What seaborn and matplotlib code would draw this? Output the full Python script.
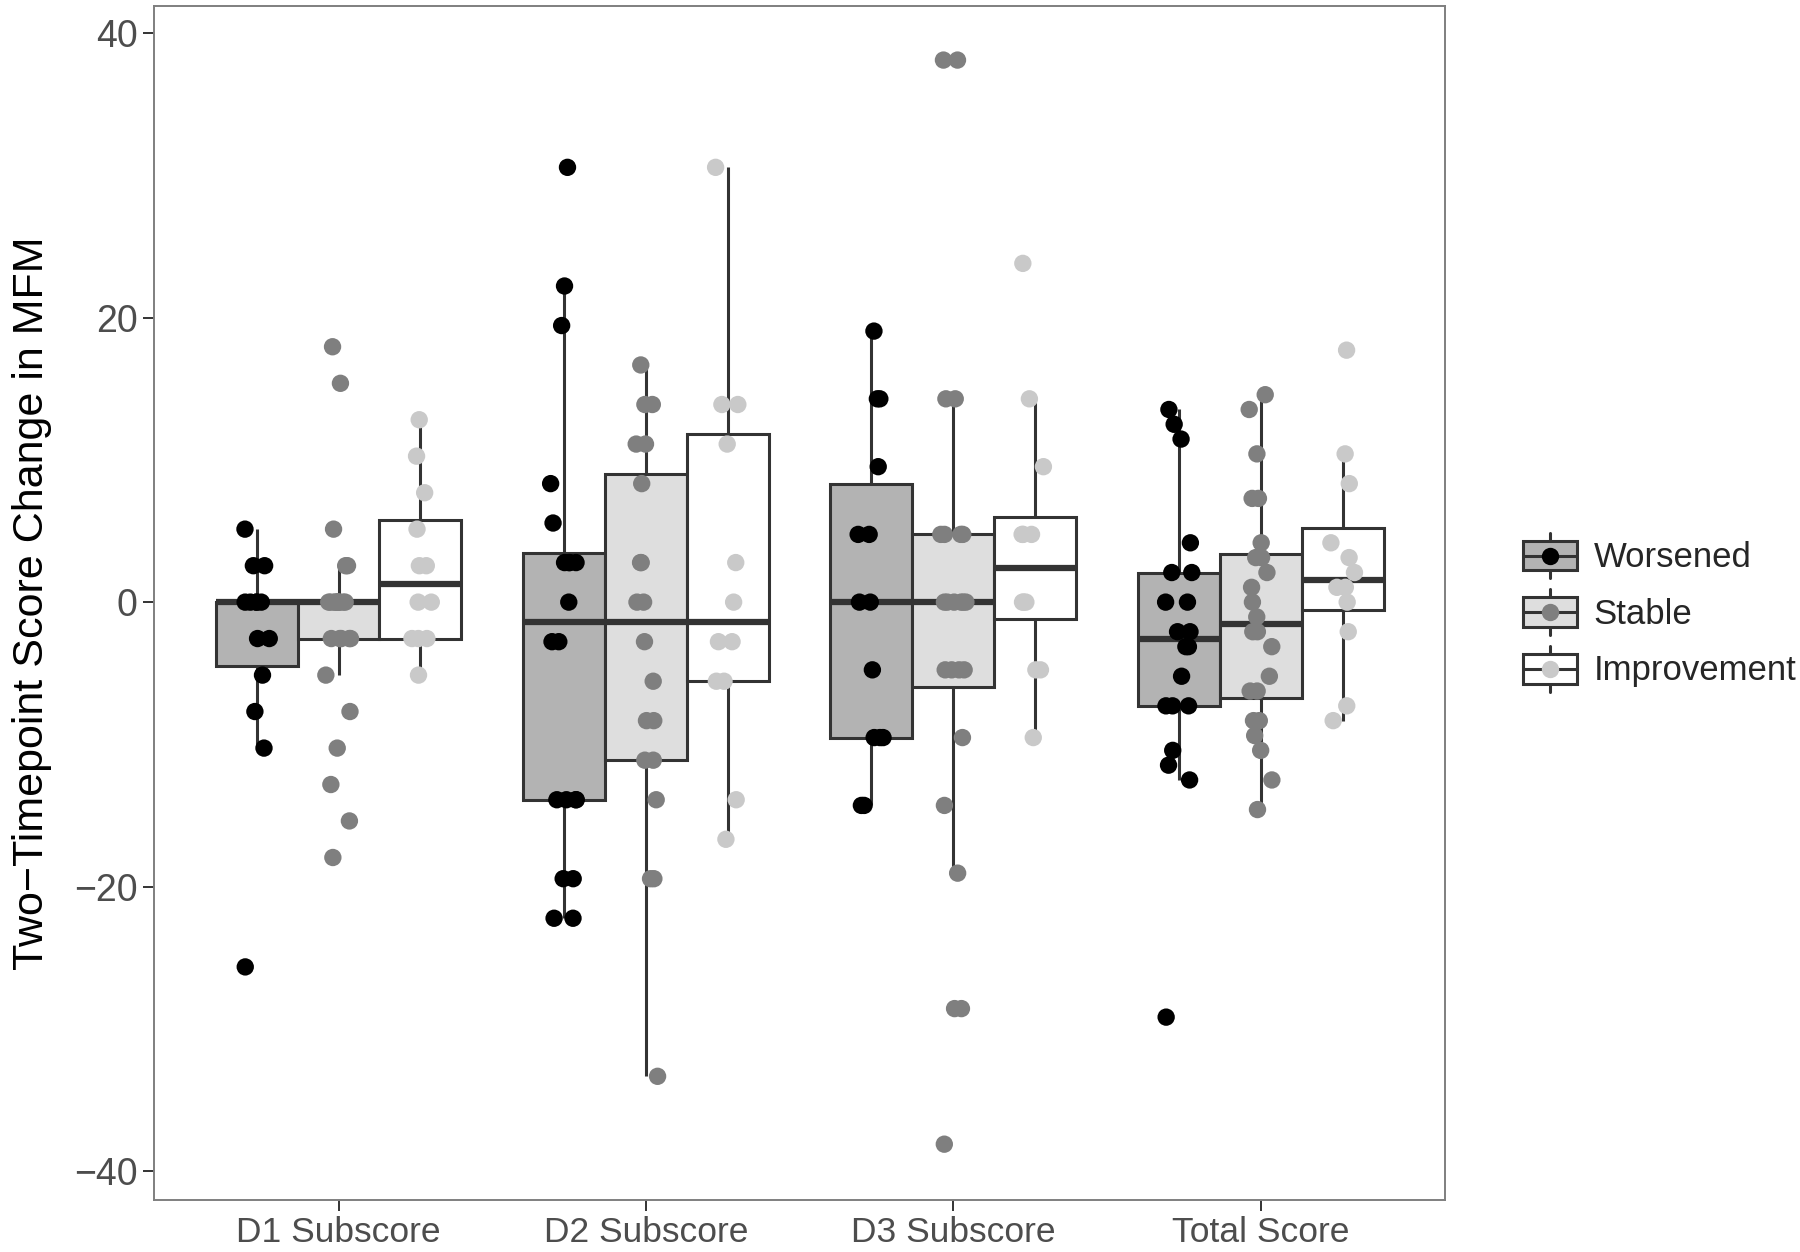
import numpy as np
import pandas as pd
import matplotlib
matplotlib.use("Agg")
import matplotlib.pyplot as plt
import seaborn as sns
from matplotlib.legend_handler import HandlerBase
from matplotlib.patches import Rectangle
from matplotlib.lines import Line2D

# ---------------- data ----------------
scores = ["D1 Subscore", "D2 Subscore", "D3 Subscore", "Total Score"]
statuses = ["Worsened", "Stable", "Improvement"]

d1_worsened = [-25.64, -10.26, -7.69, -5.13, -2.56, -2.56, 0, 0, 0, 0, 0, 2.56, 2.56, 5.13]
d1_stable = [-17.95, -15.38, -12.82, -10.26, -7.69, -5.13, -2.56, -2.56, -2.56, -2.56, -2.56,
             0, 0, 0, 0, 0, 0, 0, 0, 0, 0, 2.56, 2.56, 5.13, 15.38, 17.95]
d1_improvement = [12.82, 10.26, 7.69, 5.13, 2.56, 2.56, 0, 0, -2.56, -2.56, -2.56, -5.13]

d2_worsened = [30.56, 22.22, 19.44, 8.33, 5.56, 2.78, 2.78, 2.78, 2.78, 0, -2.78, -2.78,
               -13.89, -13.89, -13.89, -13.89, -19.44, -19.44, -22.22, -22.22]
d2_stable = [16.67, 13.89, 13.89, 11.11, 11.11, 8.33, 2.78, 2.78, 0, 0, -2.78, -5.56,
             -8.33, -8.33, -11.11, -11.11, -13.89, -19.44, -19.44, -33.33]
d2_improvement = [30.56, 13.89, 13.89, 11.11, 2.78, 0, -2.78, -2.78, -5.56, -5.56, -13.89, -16.67]

d3_worsened = [19.05, 14.29, 14.29, 9.52, 4.76, 4.76, 0, 0, -4.76, -9.52, -9.52, -9.52, -14.29, -14.29]
d3_stable = [38.10, 38.10, 14.29, 14.29, 4.76, 4.76, 4.76, 4.76, 0, 0, 0, 0, 0, 0,
             -4.76, -4.76, -4.76, -4.76, -9.52, -14.29, -19.05, -28.57, -28.57, -38.10]
d3_improvement = [23.81, 14.29, 9.52, 4.76, 4.76, 4.76, 0, 0, 0, -4.76, -4.76, -9.52]

total_worsened = [13.54, 12.50, 11.46, 4.17, 2.08, 2.08, 0, 0, -2.08, -2.08, -3.13, -3.13,
                  -5.21, -7.29, -7.29, -7.29, -10.42, -11.46, -12.50, -29.17]
total_stable = [14.58, 13.54, 10.42, 7.29, 7.29, 4.17, 3.13, 3.13, 2.08, 1.04, 0, -1.04,
                -2.08, -2.08, -3.13, -5.21, -6.25, -6.25, -8.33, -8.33, -9.38, -10.42, -12.50, -14.58]
total_improvement = [17.71, 10.42, 8.33, 4.17, 3.13, 2.08, 1.04, 1.04, 0, -2.08, -7.29, -8.33]

groups = {
    ("D1 Subscore", "Worsened"): d1_worsened,
    ("D1 Subscore", "Stable"): d1_stable,
    ("D1 Subscore", "Improvement"): d1_improvement,
    ("D2 Subscore", "Worsened"): d2_worsened,
    ("D2 Subscore", "Stable"): d2_stable,
    ("D2 Subscore", "Improvement"): d2_improvement,
    ("D3 Subscore", "Worsened"): d3_worsened,
    ("D3 Subscore", "Stable"): d3_stable,
    ("D3 Subscore", "Improvement"): d3_improvement,
    ("Total Score", "Worsened"): total_worsened,
    ("Total Score", "Stable"): total_stable,
    ("Total Score", "Improvement"): total_improvement,
}
rows = []
for (sc, st), vals in groups.items():
    for v in vals:
        rows.append({"score": sc, "status": st, "value": v})
df = pd.DataFrame(rows)

box_fills = {"Worsened": "#B3B3B3", "Stable": "#DEDEDE", "Improvement": "#FFFFFF"}
point_colors = {"Worsened": "#000000", "Stable": "#7F7F7F", "Improvement": "#C9C9C9"}
line_col = "#333333"

# ---------------- plot ----------------
sns.set_theme(style="white")
plt.rcParams["font.family"] = ["Liberation Sans", "DejaVu Sans"]

fig = plt.figure(figsize=(18, 12.52), dpi=100)
ax = fig.add_axes([0.0856, 0.0418, 0.7172, 0.9534])

sns.boxplot(data=df, x="score", y="value", hue="status", order=scores,
            hue_order=statuses, palette=box_fills, width=0.8, gap=0,
            showfliers=False, showcaps=False, linecolor=line_col, linewidth=2.2,
            whis=1.5, medianprops=dict(linewidth=4.5, color=line_col),
            legend=False, ax=ax)

np.random.seed(7)
sns.stripplot(data=df, x="score", y="value", hue="status", order=scores,
              hue_order=statuses, palette=point_colors, dodge=True, jitter=0.13,
              size=12.5, linewidth=0, legend=False, ax=ax, zorder=5)

ax.set_xlim(-0.6, 3.6)
ax.set_ylim(-42.0, 41.9)
ax.set_yticks([-40, -20, 0, 20, 40])
ax.set_xlabel("")
ax.set_ylabel("Two\u2212Timepoint Score Change in MFM", fontsize=31, color="black", labelpad=16)
ax.tick_params(axis="both", left=True, bottom=True, length=8, width=1.4,
               color="#333333", labelcolor="#4D4D4D", pad=4)
ax.tick_params(axis="y", labelsize=27)
ax.tick_params(axis="x", labelsize=25.5)
for s in ax.spines.values():
    s.set_visible(True)
    s.set_color("#7F7F7F")
    s.set_linewidth(1.4)


# ---------------- legend ----------------
class BoxKey:
    def __init__(self, face, dot):
        self.face = face
        self.dot = dot


class BoxKeyHandler(HandlerBase):
    def create_artists(self, legend, orig_handle, xdescent, ydescent, width, height,
                       fontsize, trans):
        x0, y0 = -xdescent, -ydescent
        bh = height * 0.65
        by = y0 + (height - bh) / 2
        cx = x0 + width / 2
        cy = y0 + height / 2
        rect = Rectangle((x0, by), width, bh, facecolor=orig_handle.face,
                         edgecolor=line_col, lw=2.2, transform=trans)
        w1 = Line2D([cx, cx], [y0, by], color=line_col, lw=2.2, transform=trans)
        w2 = Line2D([cx, cx], [by + bh, y0 + height], color=line_col, lw=2.2, transform=trans)
        med = Line2D([x0, x0 + width], [cy, cy], color=line_col, lw=2.2, transform=trans)
        dot = Line2D([cx], [cy], marker="o", markersize=12.5, color=orig_handle.dot,
                     markeredgewidth=0, linestyle="none", transform=trans)
        return [rect, w1, w2, med, dot]


handles = [BoxKey(box_fills[s], point_colors[s]) for s in statuses]
fig.legend(handles, statuses, handler_map={BoxKey: BoxKeyHandler()},
           loc="center left", bbox_to_anchor=(0.846, 0.511),
           bbox_transform=fig.transFigure, frameon=False, fontsize=25,
           handlelength=1.56, handleheight=1.64, labelspacing=0.32,
           handletextpad=0.48, borderpad=0, borderaxespad=0)

fig.savefig("out.png", dpi=100)
